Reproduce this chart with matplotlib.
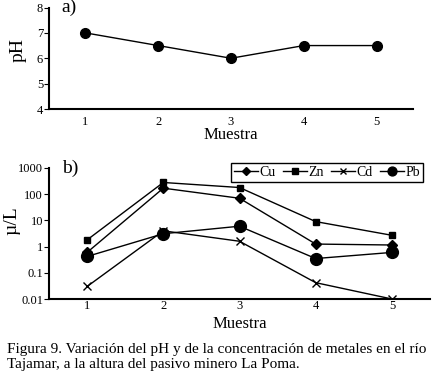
import matplotlib
matplotlib.use("Agg")
import matplotlib.pyplot as plt
from matplotlib.ticker import FixedLocator, FixedFormatter

plt.rcParams['font.family'] = ['Liberation Serif', 'DejaVu Serif']

muestras = [1, 2, 3, 4, 5]
ph = [7.0, 6.5, 6.0, 6.5, 6.5]
cu = [0.6, 170, 70, 1.25, 1.15]
zn = [1.8, 280, 180, 9, 2.7]
cd = [0.03, 4, 1.6, 0.042, 0.01]
pb = [0.42, 3.1, 6, 0.35, 0.6]
log_ticks = [0.01, 0.1, 1, 10, 100, 1000]
log_labels = ['0.01', '0.1', '1', '10', '100', '1000']
caption = ("Figura 9. Variación del pH y de la concentración de metales en el río\n"
           "Tajamar, a la altura del pasivo minero La Poma.")

W, H = 433, 381
fig = plt.figure(figsize=(W/100, H/100), dpi=100)

def ax_rect(l, t, r, b):
    return [l/W, 1 - b/H, (r-l)/W, (b-t)/H]

# panel a
ax1 = fig.add_axes(ax_rect(49, 7.5, 413, 109))
ax1.plot(muestras, ph, color='black', lw=1.0, marker='o', ms=7, mfc='black', mec='black')
ax1.set_xlim(0.5, 5.5)
ax1.set_ylim(4, 8)
ax1.set_yticks([4, 5, 6, 7, 8])
ax1.set_xticks(muestras)
ax1.tick_params(axis='x', length=0, labelsize=9, pad=5)
ax1.tick_params(axis='y', length=3.8, direction='out', labelsize=9, pad=0.5)
for s in ['top', 'right']:
    ax1.spines[s].set_visible(False)
for s in ['left', 'bottom']:
    ax1.spines[s].set_linewidth(1.5)
ax1.set_xlabel('Muestra', fontsize=12, labelpad=-1)
ax1.set_ylabel('pH', fontsize=14)
ax1.yaxis.set_label_coords(-0.062, 0.58)
ax1.text(0.035, 1.0, 'a)', transform=ax1.transAxes, fontsize=14, va='center', ha='left')

# panel b
ax2 = fig.add_axes(ax_rect(49, 168, 430, 299))
ax2.set_yscale('log')
ax2.plot(muestras, cu, color='black', lw=1.0, marker='D', ms=5, label='Cu')
ax2.plot(muestras, zn, color='black', lw=1.0, marker='s', ms=5, label='Zn')
ax2.plot(muestras, cd, color='black', lw=1.0, marker='x', ms=6, mew=1.0, label='Cd')
ax2.plot(muestras, pb, color='black', lw=1.0, marker='o', ms=8.5, label='Pb')
ax2.set_xlim(0.5, 5.5)
ax2.set_ylim(0.01, 1000)
ax2.yaxis.set_major_locator(FixedLocator(log_ticks))
ax2.yaxis.set_major_formatter(FixedFormatter(log_labels))
ax2.yaxis.set_minor_locator(FixedLocator([]))
ax2.set_xticks(muestras)
ax2.tick_params(axis='x', length=0, labelsize=9, pad=1)
ax2.tick_params(axis='y', length=3.8, direction='out', labelsize=9, pad=0.5)
for s in ['top', 'right']:
    ax2.spines[s].set_visible(False)
for s in ['left', 'bottom']:
    ax2.spines[s].set_linewidth(1.5)
ax2.set_xlabel('Muestra', fontsize=12, labelpad=2.5)
ax2.set_ylabel('µ/L', fontsize=14)
ax2.yaxis.set_label_coords(-0.074, 0.6)
ax2.text(0.035, 1.0, 'b)', transform=ax2.transAxes, fontsize=14, va='center', ha='left')
leg = ax2.legend(loc='upper right', bbox_to_anchor=(1.0, 1.09), ncol=4, fontsize=10,
                 frameon=True, fancybox=False, edgecolor='black', framealpha=1,
                 handlelength=1.75, handletextpad=0.1, columnspacing=0.5,
                 borderpad=0.2, markerscale=0.75)
leg.get_frame().set_linewidth(1.0)

fig.text(7/W, 1 - 343/H, caption, fontsize=11, va='top', ha='left', linespacing=1.2)

fig.savefig('out.png', dpi=100)
